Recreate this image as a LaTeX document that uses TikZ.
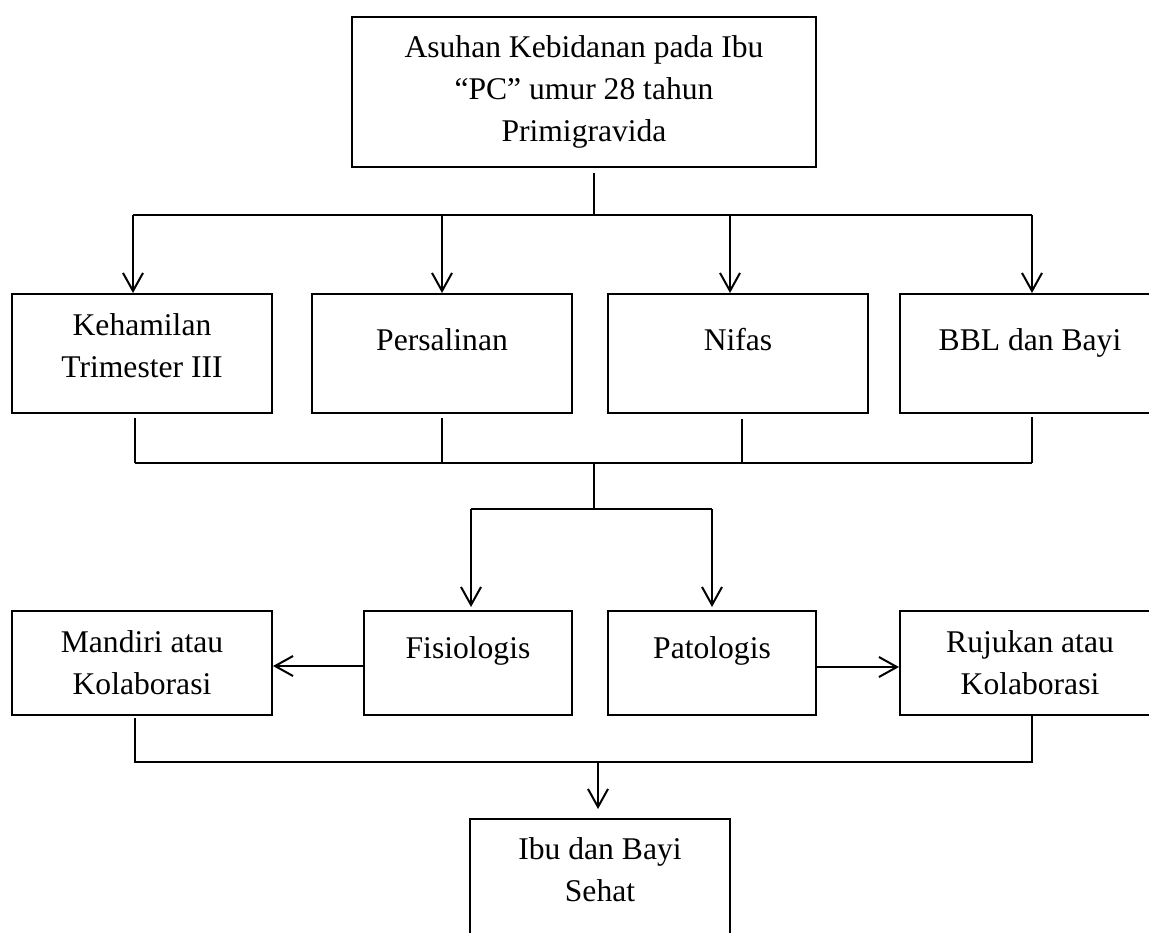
\documentclass[tikz,border=0pt]{standalone}
\usepackage{fontspec}
\setmainfont{Liberation Serif}
\usetikzlibrary{arrows.meta,calc}
\newcommand{\fl}{\rule{0pt}{12pt}}
\begin{document}
\begin{tikzpicture}[x=0.5pt,y=-0.5pt,
  box/.style={draw,line width=1pt,inner sep=0pt,minimum width=130pt,minimum height=59.5pt},
  txt/.style={anchor=north,inner sep=0pt,align=center,font=\fontsize{15.8pt}{21pt}\selectfont},
  ln/.style={line width=1pt},
  arr/.style={line width=1pt,-{Straight Barb[length=9pt,width=10pt]}}]
\fill[white] (0,0) rectangle (1149,932);
\useasboundingbox (0,0) rectangle (1149,932);

% boxes
\node[box,minimum width=232pt,minimum height=75pt] (T) at (584,92) {};
\node[box] (B1) at (142,353.5) {};
\node[box] (B2) at (442,353.5) {};
\node[box] (B3) at (738,353.5) {};
\node[box] (B4) at (1030,353.5) {};
\node[box,minimum height=52pt] (M) at (142,663) {};
\node[box,minimum width=104pt,minimum height=52pt] (F) at (468,663) {};
\node[box,minimum width=104pt,minimum height=52pt] (P) at (712,663) {};
\node[box,minimum height=52pt] (R) at (1030,663) {};
\node[box,minimum height=70.5pt] (S) at (600,889.5) {};

% texts
\node[txt] (tT) at (584,33) {\fl Asuhan Kebidanan pada Ibu\\``PC'' umur 28 tahun\\Primigravida};
\node[txt] (tB1) at (142,311) {\fl Kehamilan\\Trimester III};
\node[txt] (tB2) at (442,326) {\fl Persalinan};
\node[txt] (tB3) at (738,326) {\fl Nifas};
\node[txt] (tB4) at (1030,326) {\fl BBL dan Bayi};
\node[txt] (tM) at (142,628) {\fl Mandiri atau\\Kolaborasi};
\node[txt] (tF) at (468,634) {\fl Fisiologis};
\node[txt] (tP) at (712,634) {\fl Patologis};
\node[txt] (tR) at (1030,628) {\fl Rujukan atau\\Kolaborasi};
\node[txt] (tS) at (600,835) {\fl Ibu dan Bayi\\Sehat};

% junction coordinates
\coordinate (j0) at (594,215);
\coordinate (a1) at (133,215);
\coordinate (a2) at (442,215);
\coordinate (a3) at (730,215);
\coordinate (a4) at (1032,215);
\coordinate (d1) at (135,463);
\coordinate (d2) at (442,463);
\coordinate (d3) at (742,463);
\coordinate (d4) at (1032,463);
\coordinate (c0) at (594,463);
\coordinate (c1) at (594,509);
\coordinate (e1) at (471,509);
\coordinate (e2) at (712,509);
\coordinate (f1) at (135,762);
\coordinate (f2) at (1032,762);
\coordinate (g0) at (598,762);

% top to row 2
\draw[ln] ($(T.south -| j0)+(0,5)$) -- (j0);
\draw[ln] (a1) -- (a4);
\draw[arr] (a1) -- (B1.north -| a1);
\draw[arr] (a2) -- (B2.north -| a2);
\draw[arr] (a3) -- (B3.north -| a3);
\draw[arr] (a4) -- (B4.north -| a4);

% row 2 to row 3
\draw[ln] ($(B1.south -| d1)+(0,4)$) -- (d1);
\draw[ln] ($(B2.south -| d2)+(0,4)$) -- (d2);
\draw[ln] ($(B3.south -| d3)+(0,5)$) -- (d3);
\draw[ln] ($(B4.south -| d4)+(0,3)$) -- (d4);
\draw[ln] (d1) -- (d4);
\draw[ln] (c0) -- (c1);
\draw[ln] (e1) -- (e2);
\draw[arr,shorten >=1.5pt] (e1) -- (F.north -| e1);
\draw[arr,shorten >=1.5pt] (e2) -- (P.north -| e2);

% row 3 side arrows
\draw[arr] ($(F.west)+(0,3)$) -- ($(M.east)+(0,3)$);
\draw[arr] ($(P.east)+(0,4)$) -- ($(R.west)+(0,4)$);

% row 3 to bottom
\draw[ln] ($(M.south -| f1)+(0,2)$) -- (f1) -- (f2) -- (R.south -| f2);
\draw[arr,shorten >=4.5pt] (g0) -- (S.north -| g0);
\end{tikzpicture}
\end{document}
